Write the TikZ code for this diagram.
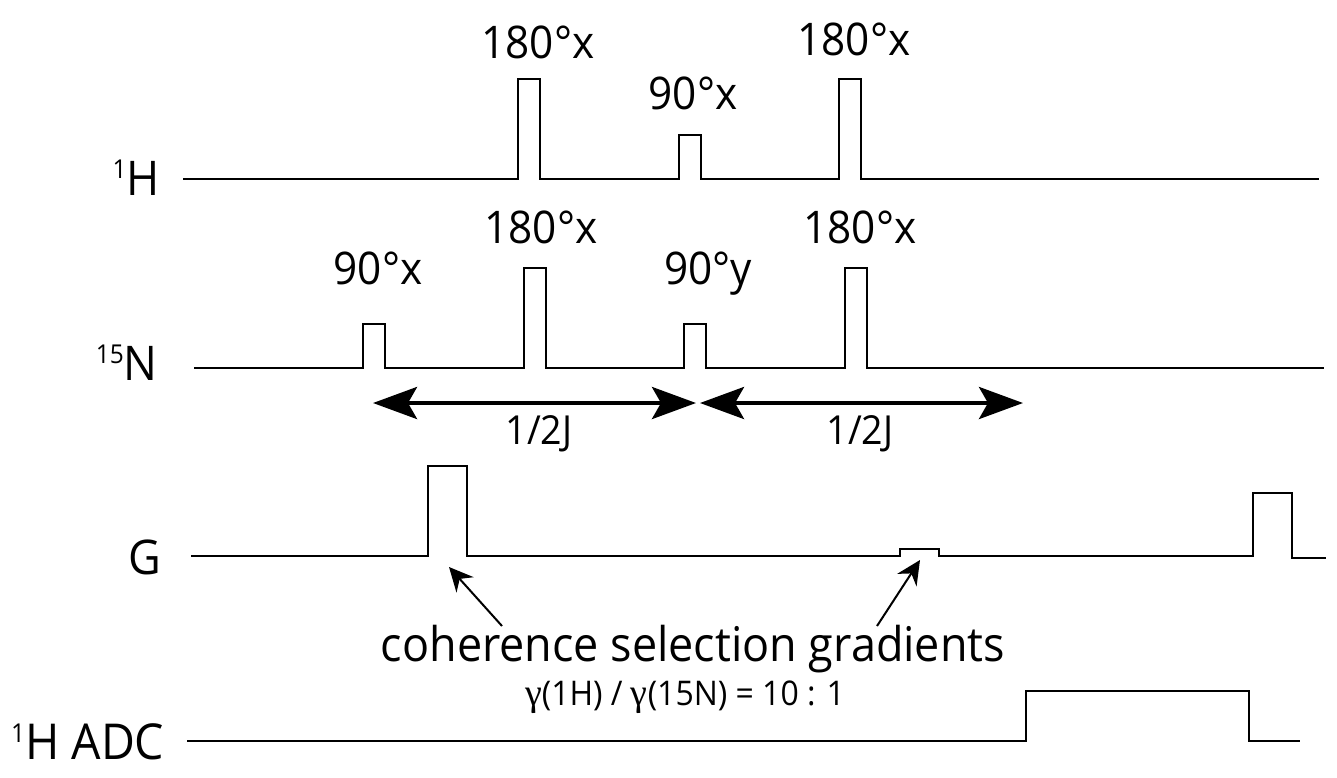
\documentclass[tikz,border=0pt]{standalone}
\usepackage{fontspec}
\setmainfont[FakeStretch=0.94]{Open Sans}
\usetikzlibrary{arrows.meta}
\newfontfamily\greekfont{Liberation Serif}
\newcommand{\supnum}[1]{\raisebox{17pt}{\fontsize{26}{28}\selectfont #1}}
\newcommand{\gam}{{\greekfont\fontsize{38}{38}\selectfont γ}}
\tikzset{
  x=1pt,y=-1pt,
  wave/.style={line width=2pt,black,line join=miter},
  big/.style={font=\fontsize{47.8}{50}\selectfont,inner sep=0pt,anchor=base},
  pulse/.style={font=\fontsize{45}{50}\selectfont,inner sep=0pt,anchor=base},
  small/.style={font=\fontsize{40}{44}\selectfont,inner sep=0pt,anchor=base},
  tiny/.style={font=\fontsize{34}{36}\selectfont,inner sep=0pt,anchor=base},
  delay/.style={line width=4.2pt,{Stealth[length=44pt,width=32pt,inset=9pt]}-{Stealth[length=44pt,width=32pt,inset=9pt]}},
  callout/.style={line width=2pt,-{Stealth[length=24pt,width=23pt,inset=8pt]}},
}
\begin{document}
\begin{tikzpicture}
\useasboundingbox (0,0) rectangle (1337,777);
% channel labels
\node[big,anchor=base east] (lH) at (160,195) {\supnum{1}H};
\node[big,anchor=base east] (lN) at (158,380) {\supnum{15}N};
\node[big] (lG) at (145,574) {G};
\node[big,anchor=base west,font=\fontsize{49.5}{50}\selectfont] (lA) at (11,759) {\supnum{1}H ADC};
% waveforms
\draw[wave] (183,179) -- (518,179) -- (518,79) -- (540,79) -- (540,179) -- (679,179) -- (679,135) -- (701,135) -- (701,179) -- (839,179) -- (839,79) -- (861,79) -- (861,179) -- (1319,179);
\draw[wave] (194,368) -- (363,368) -- (363,324) -- (385,324) -- (385,368) -- (524,368) -- (524,268) -- (546,268) -- (546,368) -- (684,368) -- (684,324) -- (706,324) -- (706,368) -- (845,368) -- (845,268) -- (867,268) -- (867,368) -- (1324,368);
\draw[wave] (191,556) -- (428,556) -- (428,466) -- (467,466) -- (467,556) -- (900,556) -- (900,549) -- (939,549) -- (939,556) -- (1253,556) -- (1253,493) -- (1292,493) -- (1292,558) -- (1326,558);
\draw[wave] (187,741) -- (1026,741) -- (1026,691) -- (1249,691) -- (1249,741) -- (1300,741);
% pulse labels
\node[pulse] (a1) at (538,58) {180°x};
\node[pulse] (a2) at (693,109) {90°x};
\node[pulse] (a3) at (854,55) {180°x};
\node[pulse] (b1) at (541,243) {180°x};
\node[pulse] (b2) at (378,284) {90°x};
\node[pulse] (b3) at (708,284) {90°y};
\node[pulse] (b4) at (860,243) {180°x};
% delays
\coordinate (d1) at (373,403);
\coordinate (d2) at (696,403);
\coordinate (d3) at (700,403);
\coordinate (d4) at (1023,403);
\draw[delay] (d1) -- (d2);
\draw[delay] (d3) -- (d4);
\node[small] (j1) at (539,444) {1/2J};
\node[small] (j2) at (860,444) {1/2J};
% callouts
\node[big] (cs) at (693,661) {coherence selection gradients};
\node[tiny] (ratio) at (685,705) {\gam(1H) / \gam(15N) = 10 : 1};
\coordinate (c1s) at (502,626);
\coordinate (c1e) at (449,567);
\coordinate (c2s) at (877,626);
\coordinate (c2e) at (920,560);
\draw[callout] (c1s) -- (c1e);
\draw[callout] (c2s) -- (c2e);
\end{tikzpicture}
\end{document}
